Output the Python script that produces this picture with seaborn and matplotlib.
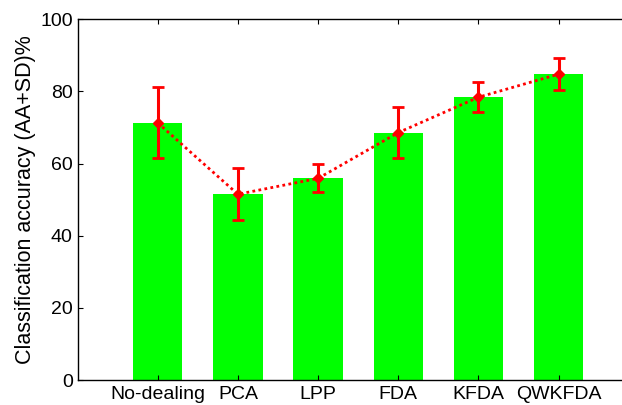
import numpy as np
import pandas as pd
import matplotlib
matplotlib.use('Agg')
import matplotlib.pyplot as plt
from matplotlib.patches import Rectangle
import seaborn as sns

# ── Data ──────────────────────────────────────────────────────
methods  = ['No-dealing', 'PCA', 'LPP', 'FDA', 'KFDA', 'QWKFDA']
accuracy = [71.3, 51.5, 55.9, 68.6, 78.4, 84.8]
sd       = [9.8, 7.2, 3.9, 7.0, 4.2, 4.5]
yticks   = [0, 20, 40, 60, 80, 100]

plt.rcParams['font.family'] = ['Liberation Sans', 'DejaVu Sans']

df = pd.DataFrame({'method': methods, 'acc': accuracy, 'sd': sd})

fig = plt.figure(figsize=(6.22, 4.05), dpi=100)
# the reference is cropped at the right: axes end at the canvas edge
ax = fig.add_axes([0.1259, 0.0617, 0.8741, 0.8906])

sns.barplot(data=df, x='method', y='acc', order=methods, color='#00ff00',
            saturation=1, width=0.616, edgecolor='none', errorbar=None, ax=ax)

pos = np.arange(len(methods))
ax.errorbar(pos, df['acc'], yerr=df['sd'], color='#ff0000',
            ls=(0, (1, 1.2)), lw=2.0, marker='D', ms=5,
            elinewidth=2.2, capsize=4.5, capthick=2.0, zorder=5)

ax.set_xlim(-0.99, 5.79)
ax.set_ylim(0, 100)
ax.set_yticks(yticks)
ax.set_xlabel('')
ax.set_ylabel('Classification accuracy (AA+SD)%', fontsize=15.5, labelpad=3)
ax.xaxis.set_ticks_position('both')
ax.yaxis.set_ticks_position('left')
ax.tick_params(direction='in', length=3.5, width=0.8,
               labelsize=14, color='black')
ax.tick_params(axis='x', pad=4)
ax.tick_params(axis='y', pad=4)
for side in ['left', 'bottom', 'top']:
    ax.spines[side].set_linewidth(1.0)
    ax.spines[side].set_color('black')
ax.spines['right'].set_visible(False)

# blank the last pixel column so no frame edge shows on the cropped side
fig.add_artist(Rectangle((620.8 / 622, 0.08), 1.5 / 622, 0.86,
                         transform=fig.transFigure, facecolor='white',
                         edgecolor='none', zorder=20))

fig.savefig('out.png', dpi=100, facecolor='white')
